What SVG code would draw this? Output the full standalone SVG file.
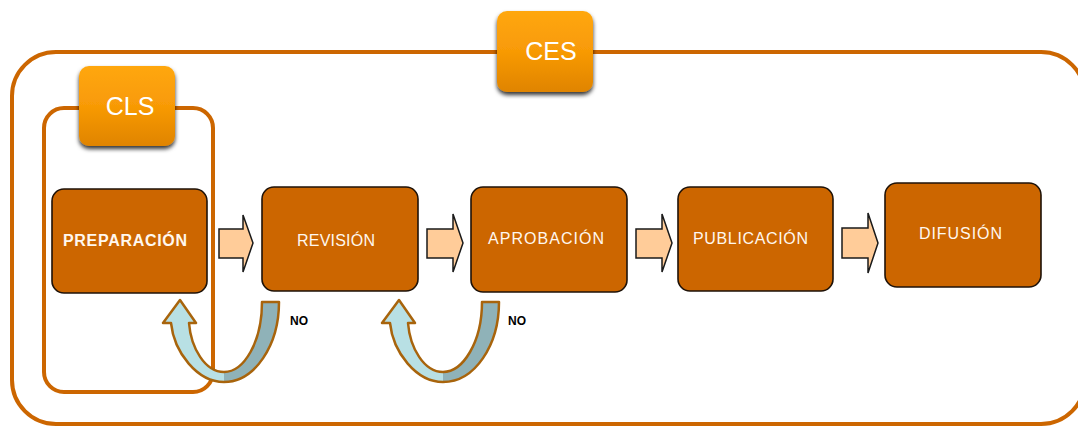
<svg xmlns="http://www.w3.org/2000/svg" width="1078" height="426" viewBox="0 0 1078 426">
<defs>
<linearGradient id="gOr" x1="0" y1="0" x2="0" y2="1">
<stop offset="0" stop-color="#ffa70f"/>
<stop offset="0.5" stop-color="#f89a06"/>
<stop offset="1" stop-color="#e08400"/>
</linearGradient>
<filter id="sh" x="-20%" y="-20%" width="140%" height="150%">
<feDropShadow dx="0" dy="3" stdDeviation="2" flood-color="#000" flood-opacity="0.8"/>
</filter>
<style>
.frame{fill:none;stroke:#cc6600;stroke-width:4}
.tag{fill:url(#gOr);filter:url(#sh)}
.tagt{font-family:"Liberation Sans",Arial,sans-serif;font-size:25px;fill:#fff;text-anchor:middle}
.box{fill:#cc6600;stroke:#1e1208;stroke-width:1.6}
.bt{font-family:"Liberation Sans",Arial,sans-serif;font-size:16px;fill:#fff7ee}
.blk{fill:#ffcc99;stroke:#1a1a1a;stroke-width:1.5;stroke-linejoin:miter}
.rib{stroke:none}
.ribo{fill:none;stroke:#a8640c;stroke-width:2.5;stroke-linejoin:round}
.no{font-family:"Liberation Sans",Arial,sans-serif;font-size:12px;font-weight:bold;fill:#000}
</style>
</defs>
<rect width="1078" height="426" fill="#fff"/>

<g id="CES">
<rect class="frame" x="12" y="52" width="1073" height="372" rx="44" ry="44"/>
<rect class="tag" x="497" y="11" width="96" height="81" rx="10" ry="10"/>
<text class="tagt" x="551" y="60">CES</text>
</g>

<g id="CLS">
<rect class="frame" x="44" y="108" width="169" height="284" rx="20" ry="20"/>
<rect class="tag" x="79" y="66" width="96" height="80" rx="10" ry="10"/>
<text class="tagt" x="130" y="115">CLS</text>
</g>

<g id="preparacion">
<rect class="box" x="52" y="189" width="155" height="104" rx="12" ry="12"/>
<text class="bt" x="63" y="246" font-weight="bold" textLength="124" lengthAdjust="spacing">PREPARACIÓN</text>
</g>
<g id="revision">
<rect class="box" x="262" y="187" width="156" height="104" rx="12" ry="12"/>
<text class="bt" x="297" y="246" textLength="78" lengthAdjust="spacing">REVISIÓN</text>
</g>
<g id="aprobacion">
<rect class="box" x="471" y="187" width="156" height="105" rx="12" ry="12"/>
<text class="bt" x="488" y="244" textLength="116" lengthAdjust="spacing">APROBACIÓN</text>
</g>
<g id="publicacion">
<rect class="box" x="678" y="187" width="155" height="104" rx="12" ry="12"/>
<text class="bt" x="693" y="244" textLength="115" lengthAdjust="spacing">PUBLICACIÓN</text>
</g>
<g id="difusion">
<rect class="box" x="885" y="183" width="156" height="104" rx="12" ry="12"/>
<text class="bt" x="919" y="239" textLength="83" lengthAdjust="spacing">DIFUSIÓN</text>
</g>

<g id="connectors">
<path class="blk" d="M219,229 L243,229 L243,215 L253,243 L243,272 L243,258 L219,258 Z"/>
<path class="blk" d="M427,229 L453,229 L453,214 L463,243 L453,272 L453,258 L427,258 Z"/>
<path class="blk" d="M636,229 L662,229 L662,214 L672,243 L662,272 L662,258 L636,258 Z"/>
<path class="blk" d="M842,228 L868,228 L868,213 L878,243 L868,273 L868,258 L842,258 Z"/>

<g id="loop1">
<path class="rib" fill="#b8e0e4" d="M224,382 C197,382 174,352 171,323 L163,323 L180,300 L196,323 L189,323 C191,348 205,372 224,372 Z"/>
<path class="rib" fill="#8fb2b8" d="M262,302 L279,302 C279,345 255,382 224,382 L224,372 C244,372 262,342 262,302 Z"/>
<path class="ribo" d="M262,302 L279,302 C279,345 255,382 224,382 C197,382 174,352 171,323 L163,323 L180,300 L196,323 L189,323 C191,348 205,372 224,372 C244,372 262,342 262,302 Z"/>
</g>
<g id="loop2">
<path class="rib" fill="#b8e0e4" d="M443,382 C416,382 393,352 390,323 L382,323 L399,300 L415,323 L408,323 C410,348 424,372 443,372 Z"/>
<path class="rib" fill="#8fb2b8" d="M482,302 L499,302 C499,345 475,382 443,382 L443,372 C463,372 482,342 482,302 Z"/>
<path class="ribo" d="M482,302 L499,302 C499,345 475,382 443,382 C416,382 393,352 390,323 L382,323 L399,300 L415,323 L408,323 C410,348 424,372 443,372 C463,372 482,342 482,302 Z"/>
</g>
<text class="no" x="290" y="325">NO</text>
<text class="no" x="508" y="325">NO</text>
</g>
</svg>
